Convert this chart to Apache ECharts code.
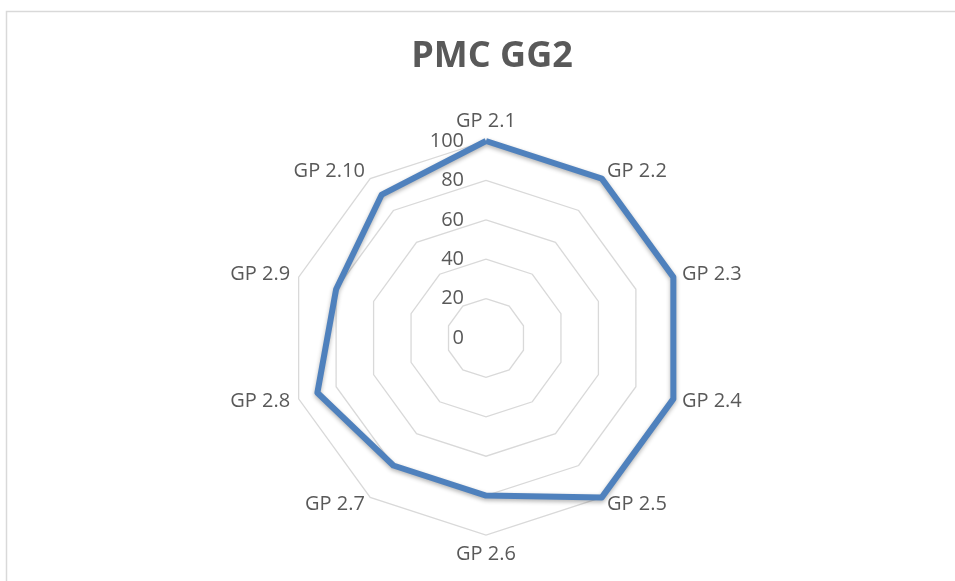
<!DOCTYPE html>
<html>
<head>
<meta charset="utf-8">
<script src="https://cdn.jsdelivr.net/npm/echarts@6/dist/echarts.min.js"></script>
<style>
  html, body { margin: 0; padding: 0; background: #fff; }
  #container { width: 955px; height: 581px; }
</style>
</head>
<body>
<div id="container"></div>
<script>
    // data
    var indicatorNames = ['GP 2.1', 'GP 2.2', 'GP 2.3', 'GP 2.4', 'GP 2.5',
                          'GP 2.6', 'GP 2.7', 'GP 2.8', 'GP 2.9', 'GP 2.10'];
    var gg2Values = [100, 100, 100, 100, 100, 80, 80, 90, 80, 90];
    var axisMax = 100;
    var ringCount = 5;

    var textColor = '#595959';
    var fontName = '"Open Sans", "Noto Sans", sans-serif';

    // radar goes counter-clockwise, excel goes clockwise:
    // keep the first one and reverse the rest
    var order = [0];
    for (var k = indicatorNames.length - 1; k > 0; k--) order.push(k);

    var indicators = order.map(function (idx, i) {
        var ind = { name: indicatorNames[idx], min: 0, max: axisMax };
        if (i === 0) {
            // only the first spoke carries the value labels
            ind.axisLabel = {
                show: true,
                color: textColor,
                fontSize: 20,
                fontFamily: fontName,
                margin: 22
            };
        }
        return ind;
    });
    var orderedValues = order.map(function (idx) { return gg2Values[idx]; });

    var dom = document.getElementById('container');
    var myChart = echarts.init(dom);
    var option = {
        backgroundColor: '#fff',
        animation: false,
        title: {
            text: 'PMC GG2',
            left: 487,
            top: 34,
            textAlign: 'center',
            textStyle: {
                color: textColor,
                fontSize: 36,
                fontWeight: 'bold',
                fontFamily: fontName
            }
        },
        graphic: [{
            type: 'rect',
            shape: { x: 6.5, y: 11.5, width: 1200, height: 900 },
            style: { fill: 'none', stroke: '#d9d9d9', lineWidth: 1.5 },
            silent: true
        }],
        radar: {
            center: [486, 338],
            radius: 197,
            startAngle: 90,
            shape: 'polygon',
            splitNumber: ringCount,
            indicator: indicators,
            axisName: {
                color: textColor,
                fontSize: 20,
                fontFamily: fontName
            },
            nameGap: 9,
            axisLine: { show: false },
            axisTick: { show: false },
            axisLabel: { show: false },
            splitArea: { show: false },
            splitLine: {
                lineStyle: { color: '#d9d9d9', width: 1.3 }
            }
        },
        series: [{
            type: 'radar',
            symbol: 'none',
            lineStyle: {
                color: '#4f81bd',
                width: 6,
                shadowColor: 'rgba(0,0,0,0.3)',
                shadowBlur: 4,
                shadowOffsetY: 2
            },
            data: [{ value: orderedValues, name: 'PMC GG2' }]
        }]
    };

    if (option && typeof option === 'object') {
        myChart.setOption(option);
    }
</script>
</body>
</html>
